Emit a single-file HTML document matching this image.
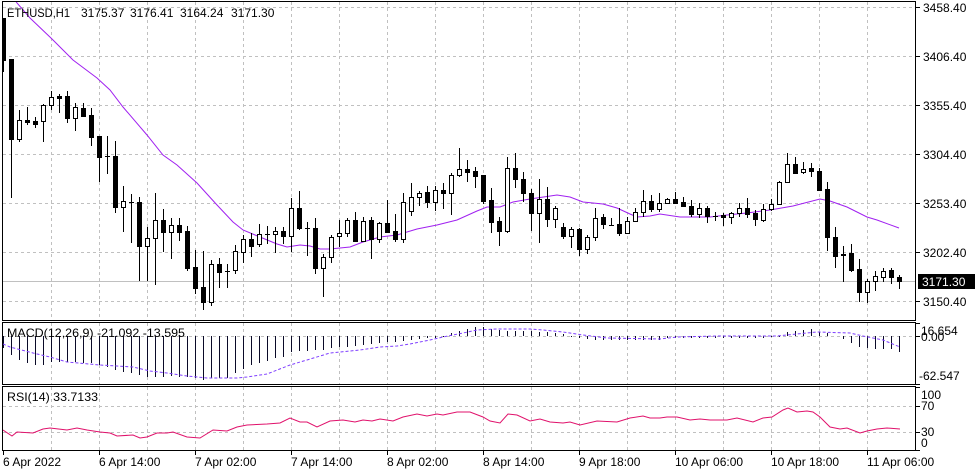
<!DOCTYPE html>
<html><head><meta charset="utf-8"><style>
html,body{margin:0;padding:0;background:#fff;}
svg{display:block;}
text{font-family:"Liberation Sans",Arial,sans-serif;font-size:12px;fill:#000;}
</style></head><body>
<svg width="980" height="475" viewBox="0 0 980 475" xmlns="http://www.w3.org/2000/svg">
<rect width="980" height="475" fill="#fff"/>
<defs>
<clipPath id="cm"><rect x="3" y="2" width="912" height="318"/></clipPath>
<clipPath id="cd"><rect x="3" y="323" width="912" height="61"/></clipPath>
<clipPath id="cr"><rect x="3" y="387" width="912" height="63"/></clipPath>
</defs>
<!-- grid -->
<g stroke="#c0c0c0" stroke-width="1" stroke-dasharray="3,3" fill="none" shape-rendering="crispEdges">
<path clip-path="url(#cm)" d="M51.5 2V320M99.5 2V320M147.5 2V320M195.5 2V320M243.5 2V320M291.5 2V320M339.5 2V320M387.5 2V320M435.5 2V320M483.5 2V320M531.5 2V320M579.5 2V320M627.5 2V320M675.5 2V320M723.5 2V320M771.5 2V320M819.5 2V320M867.5 2V320"/>
<path clip-path="url(#cm)" d="M3 7.5H915M3 56.5H915M3 105.5H915M3 154.5H915M3 203.5H915M3 252.5H915M3 301.5H915"/>
<path d="M51.5 323V384M99.5 323V384M147.5 323V384M195.5 323V384M243.5 323V384M291.5 323V384M339.5 323V384M387.5 323V384M435.5 323V384M483.5 323V384M531.5 323V384M579.5 323V384M627.5 323V384M675.5 323V384M723.5 323V384M771.5 323V384M819.5 323V384M867.5 323V384"/>
<path d="M3 336.5H915"/>
<path d="M51.5 387V450M99.5 387V450M147.5 387V450M195.5 387V450M243.5 387V450M291.5 387V450M339.5 387V450M387.5 387V450M435.5 387V450M483.5 387V450M531.5 387V450M579.5 387V450M627.5 387V450M675.5 387V450M723.5 387V450M771.5 387V450M819.5 387V450M867.5 387V450"/>
<path d="M3 406.5H915M3 432.5H915"/>
</g>
<!-- current price line -->
<path d="M3 281.5H915" stroke="#c0c0c0" stroke-width="1" shape-rendering="crispEdges"/>
<!-- MA -->
<polyline clip-path="url(#cm)" fill="none" stroke="#a020f0" stroke-width="1" points="15,0 17,3 30,18 52,39 73,60 97,78 110,90 123,107 147,135 163,155 177,165 197,183 217,205 233,222 243,230 260,237 277,244 287,247 300,245 310,246 320,249 330,249 350,247 363,242 380,237 397,235 417,229 437,225 457,220 477,211 487,207 500,207 513,202 530,199 557,195 570,197 583,202 603,204 617,208 630,214 637,217 650,216 660,214 680,217 710,217 727,215 747,213 770,210 793,206 820,199 830,201 847,207 867,217 877,220 899,228"/>
<!-- candles -->
<g clip-path="url(#cm)" shape-rendering="crispEdges">
<path stroke="#000" stroke-width="1" fill="none" d="M3.5 18V72M11.5 59V198M19.5 110V142M27.5 107V125M35.5 117V128M43.5 104V142M51.5 91V110M59.5 94V113M67.5 91V123M75.5 103V131M83.5 103V117M91.5 108V146M99.5 136V182M107.5 136V174M115.5 141V213M123.5 186V232M131.5 194V243M139.5 197V281M147.5 227V281M155.5 193V285M163.5 209V252M171.5 218V259M179.5 218V241M187.5 226V271M195.5 250V294M203.5 251V310M211.5 260V306M219.5 258V288M227.5 264V288M235.5 245V274M243.5 235V263M251.5 233V257M259.5 224V247M267.5 226V244M275.5 227V253M283.5 227V244M291.5 198V252M299.5 191V230M307.5 222V256M315.5 218V274M323.5 254V297M331.5 235V263M339.5 220V247M347.5 218V237M355.5 212V242M363.5 217V242M371.5 217V259M379.5 222V243M387.5 200V233M395.5 214V242M403.5 193V243M411.5 183V216M419.5 191V206M427.5 186V208M435.5 186V211M443.5 183V209M451.5 173V215M459.5 148V177M467.5 160V182M475.5 167V188M483.5 175V204M491.5 188V233M499.5 217V246M507.5 157V233M515.5 153V188M523.5 172V202M531.5 189V231M539.5 179V243M547.5 187V227M555.5 206V228M563.5 223V239M571.5 227V248M579.5 228V256M587.5 235V254M595.5 208V241M603.5 214V229M611.5 218V226M619.5 208V236M627.5 217V234M635.5 208V222M643.5 190V217M651.5 195V212M659.5 193V212M667.5 198V204M675.5 192V203M683.5 197V207M691.5 200V217M699.5 203V218M707.5 206V223M715.5 212V221M723.5 213V226M731.5 212V224M739.5 203V217M747.5 198V218M755.5 210V226M763.5 204V222M771.5 199V211M779.5 181V205M787.5 153V182M795.5 157V174M803.5 162V174M811.5 163V177M819.5 168V191M827.5 182V251M835.5 227V268M843.5 246V282M851.5 244V272M859.5 259V302M867.5 279V303M875.5 271V291M883.5 268V282M891.5 268V284M899.5 275V289"/>
<g fill="#000">
<rect x="1" y="18" width="5" height="43"/>
<rect x="9" y="59" width="5" height="81"/>
<rect x="25" y="120" width="5" height="3"/>
<rect x="33" y="121" width="5" height="4"/>
<rect x="57" y="96" width="5" height="3"/>
<rect x="65" y="96" width="5" height="23"/>
<rect x="81" y="108" width="5" height="9"/>
<rect x="89" y="115" width="5" height="23"/>
<rect x="97" y="136" width="5" height="22"/>
<rect x="105" y="156" width="5" height="1"/>
<rect x="113" y="156" width="5" height="52"/>
<rect x="129" y="202" width="5" height="1"/>
<rect x="137" y="202" width="5" height="45"/>
<rect x="161" y="220" width="5" height="13"/>
<rect x="177" y="225" width="5" height="8"/>
<rect x="185" y="231" width="5" height="38"/>
<rect x="193" y="267" width="5" height="22"/>
<rect x="201" y="287" width="5" height="16"/>
<rect x="217" y="264" width="5" height="9"/>
<rect x="225" y="271" width="5" height="1"/>
<rect x="249" y="239" width="5" height="8"/>
<rect x="265" y="234" width="5" height="1"/>
<rect x="281" y="231" width="5" height="6"/>
<rect x="297" y="208" width="5" height="21"/>
<rect x="305" y="228" width="5" height="1"/>
<rect x="313" y="228" width="5" height="41"/>
<rect x="353" y="220" width="5" height="22"/>
<rect x="369" y="220" width="5" height="20"/>
<rect x="385" y="223" width="5" height="10"/>
<rect x="393" y="231" width="5" height="9"/>
<rect x="425" y="192" width="5" height="11"/>
<rect x="441" y="190" width="5" height="4"/>
<rect x="465" y="169" width="5" height="4"/>
<rect x="473" y="171" width="5" height="6"/>
<rect x="481" y="175" width="5" height="27"/>
<rect x="489" y="200" width="5" height="23"/>
<rect x="497" y="221" width="5" height="11"/>
<rect x="513" y="168" width="5" height="12"/>
<rect x="521" y="179" width="5" height="15"/>
<rect x="529" y="193" width="5" height="21"/>
<rect x="545" y="199" width="5" height="21"/>
<rect x="561" y="227" width="5" height="10"/>
<rect x="577" y="229" width="5" height="21"/>
<rect x="601" y="217" width="5" height="8"/>
<rect x="609" y="225" width="5" height="1"/>
<rect x="617" y="224" width="5" height="10"/>
<rect x="649" y="201" width="5" height="9"/>
<rect x="673" y="199" width="5" height="5"/>
<rect x="681" y="202" width="5" height="5"/>
<rect x="689" y="206" width="5" height="9"/>
<rect x="705" y="208" width="5" height="9"/>
<rect x="713" y="216" width="5" height="1"/>
<rect x="721" y="215" width="5" height="3"/>
<rect x="745" y="208" width="5" height="7"/>
<rect x="753" y="213" width="5" height="7"/>
<rect x="793" y="164" width="5" height="10"/>
<rect x="809" y="168" width="5" height="4"/>
<rect x="817" y="171" width="5" height="20"/>
<rect x="825" y="189" width="5" height="49"/>
<rect x="833" y="237" width="5" height="20"/>
<rect x="841" y="254" width="5" height="2"/>
<rect x="849" y="253" width="5" height="18"/>
<rect x="857" y="269" width="5" height="24"/>
<rect x="889" y="270" width="5" height="8"/>
<rect x="897" y="277" width="5" height="5"/>
</g>
<g fill="#fff" stroke="#000" stroke-width="1">
<rect x="17.5" y="120.5" width="4" height="19"/>
<rect x="41.5" y="105.5" width="4" height="16"/>
<rect x="49.5" y="97.5" width="4" height="8"/>
<rect x="73.5" y="107.5" width="4" height="11"/>
<rect x="121.5" y="201.5" width="4" height="6"/>
<rect x="145.5" y="238.5" width="4" height="8"/>
<rect x="153.5" y="220.5" width="4" height="18"/>
<rect x="169.5" y="225.5" width="4" height="7"/>
<rect x="209.5" y="264.5" width="4" height="38"/>
<rect x="233.5" y="251.5" width="4" height="19"/>
<rect x="241.5" y="239.5" width="4" height="13"/>
<rect x="257.5" y="234.5" width="4" height="10"/>
<rect x="273.5" y="231.5" width="4" height="3"/>
<rect x="289.5" y="208.5" width="4" height="28"/>
<rect x="321.5" y="257.5" width="4" height="11"/>
<rect x="329.5" y="237.5" width="4" height="20"/>
<rect x="337.5" y="233.5" width="4" height="3"/>
<rect x="345.5" y="220.5" width="4" height="13"/>
<rect x="361.5" y="221.5" width="4" height="20"/>
<rect x="377.5" y="223.5" width="4" height="16"/>
<rect x="401.5" y="202.5" width="4" height="37"/>
<rect x="409.5" y="197.5" width="4" height="14"/>
<rect x="417.5" y="193.5" width="4" height="4"/>
<rect x="433.5" y="190.5" width="4" height="12"/>
<rect x="449.5" y="175.5" width="4" height="18"/>
<rect x="457.5" y="169.5" width="4" height="6"/>
<rect x="505.5" y="168.5" width="4" height="63"/>
<rect x="537.5" y="199.5" width="4" height="14"/>
<rect x="553.5" y="208.5" width="4" height="11"/>
<rect x="569.5" y="229.5" width="4" height="7"/>
<rect x="585.5" y="237.5" width="4" height="12"/>
<rect x="593.5" y="218.5" width="4" height="19"/>
<rect x="625.5" y="221.5" width="4" height="12"/>
<rect x="633.5" y="212.5" width="4" height="9"/>
<rect x="641.5" y="201.5" width="4" height="11"/>
<rect x="657.5" y="203.5" width="4" height="6"/>
<rect x="665.5" y="199.5" width="4" height="4"/>
<rect x="697.5" y="208.5" width="4" height="6"/>
<rect x="729.5" y="213.5" width="4" height="4"/>
<rect x="737.5" y="208.5" width="4" height="5"/>
<rect x="761.5" y="209.5" width="4" height="11"/>
<rect x="769.5" y="204.5" width="4" height="5"/>
<rect x="777.5" y="182.5" width="4" height="22"/>
<rect x="785.5" y="164.5" width="4" height="18"/>
<rect x="801.5" y="169.5" width="4" height="3"/>
<rect x="865.5" y="281.5" width="4" height="11"/>
<rect x="873.5" y="276.5" width="4" height="5"/>
<rect x="881.5" y="271.5" width="4" height="6"/>
</g>
</g>
<!-- MACD histogram -->
<path clip-path="url(#cd)" stroke="#0a0a28" stroke-width="1" fill="none" shape-rendering="crispEdges" d="M3.5 336V348M11.5 336V355M19.5 336V360M27.5 336V363M35.5 336V365M43.5 336V365M51.5 336V362M59.5 336V362M67.5 336V362M75.5 336V362M83.5 336V363M91.5 336V363M99.5 336V365M107.5 336V367M115.5 336V370M123.5 336V372M131.5 336V373M139.5 336V375M147.5 336V377M155.5 336V377M163.5 336V377M171.5 336V376M179.5 336V377M187.5 336V377M195.5 336V378M203.5 336V380M211.5 336V378M219.5 336V378M227.5 336V378M235.5 336V373M243.5 336V369M251.5 336V365M259.5 336V363M267.5 336V361M275.5 336V358M283.5 336V357M291.5 336V352M299.5 336V351M307.5 336V351M315.5 336V350M323.5 336V350M331.5 336V348M339.5 336V347M347.5 336V347M355.5 336V346M363.5 336V345M371.5 336V344M379.5 336V343M387.5 336V342M395.5 336V342M403.5 336V341M411.5 336V340M419.5 336V339M427.5 336V338M435.5 336V338M443.5 336V337M451.5 336V333M459.5 336V331M467.5 336V329M475.5 336V327M483.5 336V327M491.5 336V329M499.5 336V330M507.5 336V331M515.5 336V331M523.5 336V331M531.5 336V331M539.5 336V332M547.5 336V332M555.5 336V333M563.5 336V334M571.5 336V337M579.5 336V338M587.5 336V339M595.5 336V340M603.5 336V340M611.5 336V340M619.5 336V340M627.5 336V340M635.5 336V340M643.5 336V340M651.5 336V340M659.5 336V340M667.5 336V338M675.5 336V338M683.5 336V338M691.5 336V338M699.5 336V338M707.5 336V338M715.5 336V338M723.5 336V338M731.5 336V338M739.5 336V338M747.5 336V338M755.5 336V338M763.5 336V338M771.5 336V337M779.5 336V337M787.5 336V332M795.5 336V331M803.5 336V330M811.5 336V329M819.5 336V332M827.5 336V333M843.5 336V339M851.5 336V343M859.5 336V347M867.5 336V348M875.5 336V349M883.5 336V349M891.5 336V349M899.5 336V352"/>
<!-- MACD signal -->
<polyline clip-path="url(#cd)" fill="none" stroke="#7f3fff" stroke-width="1" stroke-dasharray="3,2" points="3,344 10,347 33,353 50,357 67,362 100,365 117,366 133,367 150,371 167,373 187,376 207,378 237,378 247,377 267,374 290,365 307,360 330,353 360,350 380,347 397,346 410,344 430,340 443,337 463,333 477,330 497,329 530,329 543,330 563,332 583,335 607,338 660,339 677,337 717,336 777,336 817,332 850,333 863,336 883,340 900,347"/>
<!-- RSI -->
<polyline clip-path="url(#cr)" fill="none" stroke="#e0116b" stroke-width="1" points="3,430 12,436 17,432 33,433 43,429 50,428 67,430 77,428 87,430 100,432 110,433 117,436 133,435 140,438 147,437 157,433 167,433 173,432 187,437 200,438 213,430 227,431 237,427 247,425 267,424 280,423 290,418 300,422 307,422 317,427 330,421 343,420 355,422 363,420 372,421 380,419 393,421 403,417 417,414 427,416 437,414 443,415 457,412 470,412 483,417 490,421 500,423 508,414 517,415 530,421 540,419 550,422 563,423 570,422 580,425 597,421 617,422 630,418 643,416 650,418 660,418 667,417 677,417 690,420 700,419 710,420 727,420 737,418 753,422 763,418 772,417 783,410 788,408 797,412 807,411 813,412 820,417 830,427 840,429 847,428 860,433 867,431 877,429 887,428 900,429"/>
<!-- borders -->
<g fill="none" stroke="#000" stroke-width="1" shape-rendering="crispEdges">
<rect x="2.5" y="1.5" width="913" height="319"/>
<rect x="2.5" y="322.5" width="913" height="62"/>
<rect x="2.5" y="386.5" width="913" height="64"/>
<path d="M916 7.5H920M916 56.5H920M916 105.5H920M916 154.5H920M916 203.5H920M916 252.5H920M916 301.5H920M916 323.5H920M916 336.5H920M916 384.5H920M916 387.5H920M916 406.5H920M916 432.5H920M916 450.5H920"/>
<path d="M3.5 451V455M99.5 451V455M195.5 451V455M291.5 451V455M387.5 451V455M483.5 451V455M579.5 451V455M675.5 451V455M771.5 451V455M867.5 451V455"/>
</g>
<!-- price box -->
<rect x="918" y="274" width="57" height="15" fill="#000"/>
<text x="922" y="286" style="fill:#fff">3171.30</text>
<!-- right axis labels -->
<text x="923" y="12">3458.40</text>
<text x="923" y="61">3406.40</text>
<text x="923" y="110">3355.40</text>
<text x="923" y="159">3304.40</text>
<text x="923" y="208">3253.40</text>
<text x="923" y="257">3202.40</text>
<text x="923" y="306">3150.40</text>
<text x="921" y="335">16.654</text>
<text x="921" y="341">0.00</text>
<text x="919" y="380">-62.547</text>
<text x="921" y="399">100</text>
<text x="921" y="410">70</text>
<text x="921" y="436">30</text>
<text x="921" y="447">0</text>
<!-- headers -->
<text x="7" y="17" textLength="63" lengthAdjust="spacingAndGlyphs">ETHUSD,H1</text>
<text x="81" y="17">3175.37</text>
<text x="130" y="17">3176.41</text>
<text x="180" y="17">3164.24</text>
<text x="231" y="17">3171.30</text>
<text x="7" y="337" textLength="178" lengthAdjust="spacingAndGlyphs">MACD(12,26,9) -21.092 -13.595</text>
<text x="7" y="401" textLength="91" lengthAdjust="spacingAndGlyphs">RSI(14) 33.7133</text>
<!-- time axis -->
<text x="3" y="466">6 Apr 2022</text>
<text x="99" y="466">6 Apr 14:00</text>
<text x="195" y="466">7 Apr 02:00</text>
<text x="291" y="466">7 Apr 14:00</text>
<text x="387" y="466">8 Apr 02:00</text>
<text x="483" y="466">8 Apr 14:00</text>
<text x="579" y="466">9 Apr 18:00</text>
<text x="675" y="466">10 Apr 06:00</text>
<text x="771" y="466">10 Apr 18:00</text>
<text x="867" y="466">11 Apr 06:00</text>
</svg>
</body></html>
